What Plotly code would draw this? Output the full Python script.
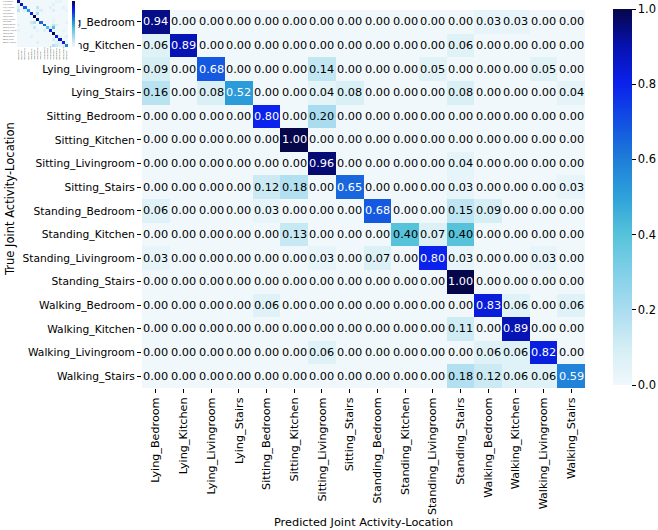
import plotly.graph_objects as go

labels = ["Lying_Bedroom", "Lying_Kitchen", "Lying_Livingroom", "Lying_Stairs",
          "Sitting_Bedroom", "Sitting_Kitchen", "Sitting_Livingroom", "Sitting_Stairs",
          "Standing_Bedroom", "Standing_Kitchen", "Standing_Livingroom", "Standing_Stairs",
          "Walking_Bedroom", "Walking_Kitchen", "Walking_Livingroom", "Walking_Stairs"]

z = [
    [0.94, 0.00, 0.00, 0.00, 0.00, 0.00, 0.00, 0.00, 0.00, 0.00, 0.00, 0.00, 0.03, 0.03, 0.00, 0.00],
    [0.06, 0.89, 0.00, 0.00, 0.00, 0.00, 0.00, 0.00, 0.00, 0.00, 0.00, 0.06, 0.00, 0.00, 0.00, 0.00],
    [0.09, 0.00, 0.68, 0.00, 0.00, 0.00, 0.14, 0.00, 0.00, 0.00, 0.05, 0.00, 0.00, 0.00, 0.05, 0.00],
    [0.16, 0.00, 0.08, 0.52, 0.00, 0.00, 0.04, 0.08, 0.00, 0.00, 0.00, 0.08, 0.00, 0.00, 0.00, 0.04],
    [0.00, 0.00, 0.00, 0.00, 0.80, 0.00, 0.20, 0.00, 0.00, 0.00, 0.00, 0.00, 0.00, 0.00, 0.00, 0.00],
    [0.00, 0.00, 0.00, 0.00, 0.00, 1.00, 0.00, 0.00, 0.00, 0.00, 0.00, 0.00, 0.00, 0.00, 0.00, 0.00],
    [0.00, 0.00, 0.00, 0.00, 0.00, 0.00, 0.96, 0.00, 0.00, 0.00, 0.00, 0.04, 0.00, 0.00, 0.00, 0.00],
    [0.00, 0.00, 0.00, 0.00, 0.12, 0.18, 0.00, 0.65, 0.00, 0.00, 0.00, 0.03, 0.00, 0.00, 0.00, 0.03],
    [0.06, 0.00, 0.00, 0.00, 0.03, 0.00, 0.00, 0.00, 0.68, 0.00, 0.00, 0.15, 0.09, 0.00, 0.00, 0.00],
    [0.00, 0.00, 0.00, 0.00, 0.00, 0.13, 0.00, 0.00, 0.00, 0.40, 0.07, 0.40, 0.00, 0.00, 0.00, 0.00],
    [0.03, 0.00, 0.00, 0.00, 0.00, 0.00, 0.03, 0.00, 0.07, 0.00, 0.80, 0.03, 0.00, 0.00, 0.03, 0.00],
    [0.00, 0.00, 0.00, 0.00, 0.00, 0.00, 0.00, 0.00, 0.00, 0.00, 0.00, 1.00, 0.00, 0.00, 0.00, 0.00],
    [0.00, 0.00, 0.00, 0.00, 0.06, 0.00, 0.00, 0.00, 0.00, 0.00, 0.00, 0.00, 0.83, 0.06, 0.00, 0.06],
    [0.00, 0.00, 0.00, 0.00, 0.00, 0.00, 0.00, 0.00, 0.00, 0.00, 0.00, 0.11, 0.00, 0.89, 0.00, 0.00],
    [0.00, 0.00, 0.00, 0.00, 0.00, 0.00, 0.06, 0.00, 0.00, 0.00, 0.00, 0.00, 0.06, 0.06, 0.82, 0.00],
    [0.00, 0.00, 0.00, 0.00, 0.00, 0.00, 0.00, 0.00, 0.00, 0.00, 0.00, 0.18, 0.12, 0.06, 0.06, 0.59],
]

cbar_ticks = [0.0, 0.2, 0.4, 0.6, 0.8, 1.0]

colorscale = [
    [0.0, "#f0f8fc"], [0.1, "#d3eef4"], [0.2, "#aadcf0"], [0.3, "#80d0e8"],
    [0.4, "#56c3da"], [0.5, "#2ea2da"], [0.6, "#1e7ed8"], [0.7, "#1250e2"],
    [0.8, "#0a22ec"], [0.9, "#0612b0"], [1.0, "#06064a"],
]

W, H = 658, 530
FONT = "DejaVu Sans"
n = len(labels)
idx = list(range(n))

# main heatmap pixel box
L, R, T, B = 142, 585, 10, 388

fig = go.Figure()

fig.add_trace(go.Heatmap(
    z=z, x=idx, y=idx, zmin=0, zmax=1, colorscale=colorscale,
    hoverinfo="skip",
    colorbar=dict(
        x=613 / W, xanchor="left", y=1 - 9 / H, yanchor="top", xpad=0, ypad=0,
        len=376 / H, lenmode="fraction", thickness=19, outlinewidth=0,
        tickvals=cbar_ticks, ticktext=[f"{t:.1f}" for t in cbar_ticks],
        ticks="outside", ticklen=4, tickcolor="black",
        tickfont=dict(family=FONT, size=11.5, color="black"),
    ),
    xaxis="x", yaxis="y",
))

# inset thumbnail (small copy in the top-left corner)
ix0, ix1, iy0, iy1 = 0, 78.5, 0, 63    # white inset box (px)
hx0, hx1, hy1 = 17, 68, 47             # thumbnail heatmap box (px)
cw = (hx1 - hx0) / n
ch = (hy1 - 0) / n
xr = [-0.5 - (hx0 - ix0) / cw, n - 0.5 + (ix1 - hx1) / cw]
yr = [n - 0.5 + (iy1 - hy1) / ch, -0.5]

fig.add_trace(go.Heatmap(
    z=[[0]], x=[xr[0], xr[1]], y=[yr[1], yr[0]],
    colorscale=[[0, "white"], [1, "white"]], showscale=False,
    hoverinfo="skip", xaxis="x2", yaxis="y2",
))
fig.add_trace(go.Heatmap(
    z=z, x=idx, y=idx, zmin=0, zmax=1, colorscale=colorscale,
    hoverinfo="skip", xaxis="x2", yaxis="y2",
    colorbar=dict(
        x=72 / W, xanchor="left", y=1 - 1 / H, yanchor="top", xpad=0, ypad=0,
        len=46 / H, lenmode="fraction", thickness=3, outlinewidth=0,
        showticklabels=False, ticks="",
    ),
))

annotations = []
for i in range(n):
    for j in range(n):
        v = z[i][j]
        annotations.append(dict(
            x=j, y=i, xref="x", yref="y", text=f"{v:.2f}", showarrow=False,
            font=dict(family=FONT, size=11.3, color="white" if v >= 0.5 else "black"),
        ))

annotations.append(dict(
    x=(L + R) / 2 / W, y=1 - 522 / H, xref="paper", yref="paper",
    text="Predicted Joint Activity-Location", showarrow=False,
    font=dict(family=FONT, size=11.3, color="black"), xanchor="center", yanchor="middle",
))
annotations.append(dict(
    x=10 / W, y=1 - (T + B) / 2 / H, xref="paper", yref="paper",
    text="True Joint Activity-Location", showarrow=False, textangle=-90,
    font=dict(family=FONT, size=11.5, color="black"), xanchor="center", yanchor="middle",
))

fig.update_layout(
    width=W, height=H,
    margin=dict(l=0, r=0, t=0, b=0),
    paper_bgcolor="white", plot_bgcolor="white",
    font=dict(family=FONT, size=11, color="black"),
    annotations=annotations,
    xaxis=dict(
        domain=[L / W, R / W], anchor="y", range=[-0.5, n - 0.5],
        tickvals=idx, ticktext=labels, tickangle=-90,
        ticks="outside", ticklen=4, tickcolor="black",
        tickfont=dict(family=FONT, size=11.2, color="black"),
        showgrid=False, zeroline=False, showline=False, automargin=False,
    ),
    yaxis=dict(
        domain=[1 - B / H, 1 - T / H], anchor="x", range=[n - 0.5, -0.5],
        tickvals=idx, ticktext=labels,
        ticks="outside", ticklen=4, tickcolor="black",
        tickfont=dict(family=FONT, size=10.7, color="black"),
        showgrid=False, zeroline=False, showline=False, automargin=False,
    ),
    xaxis2=dict(
        domain=[ix0 / W, ix1 / W], anchor="y2", range=xr,
        tickvals=idx, ticktext=labels, tickangle=-90, ticklabelposition="inside",
        tickfont=dict(family=FONT, size=1.3, color="#444"),
        showgrid=False, zeroline=False, showline=False, automargin=False,
    ),
    yaxis2=dict(
        domain=[1 - iy1 / H, 1 - iy0 / H], anchor="x2", range=yr,
        tickvals=idx, ticktext=labels, ticklabelposition="inside",
        tickfont=dict(family=FONT, size=1.3, color="#444"),
        showgrid=False, zeroline=False, showline=False, automargin=False,
    ),
)

fig.write_html("out.html")
